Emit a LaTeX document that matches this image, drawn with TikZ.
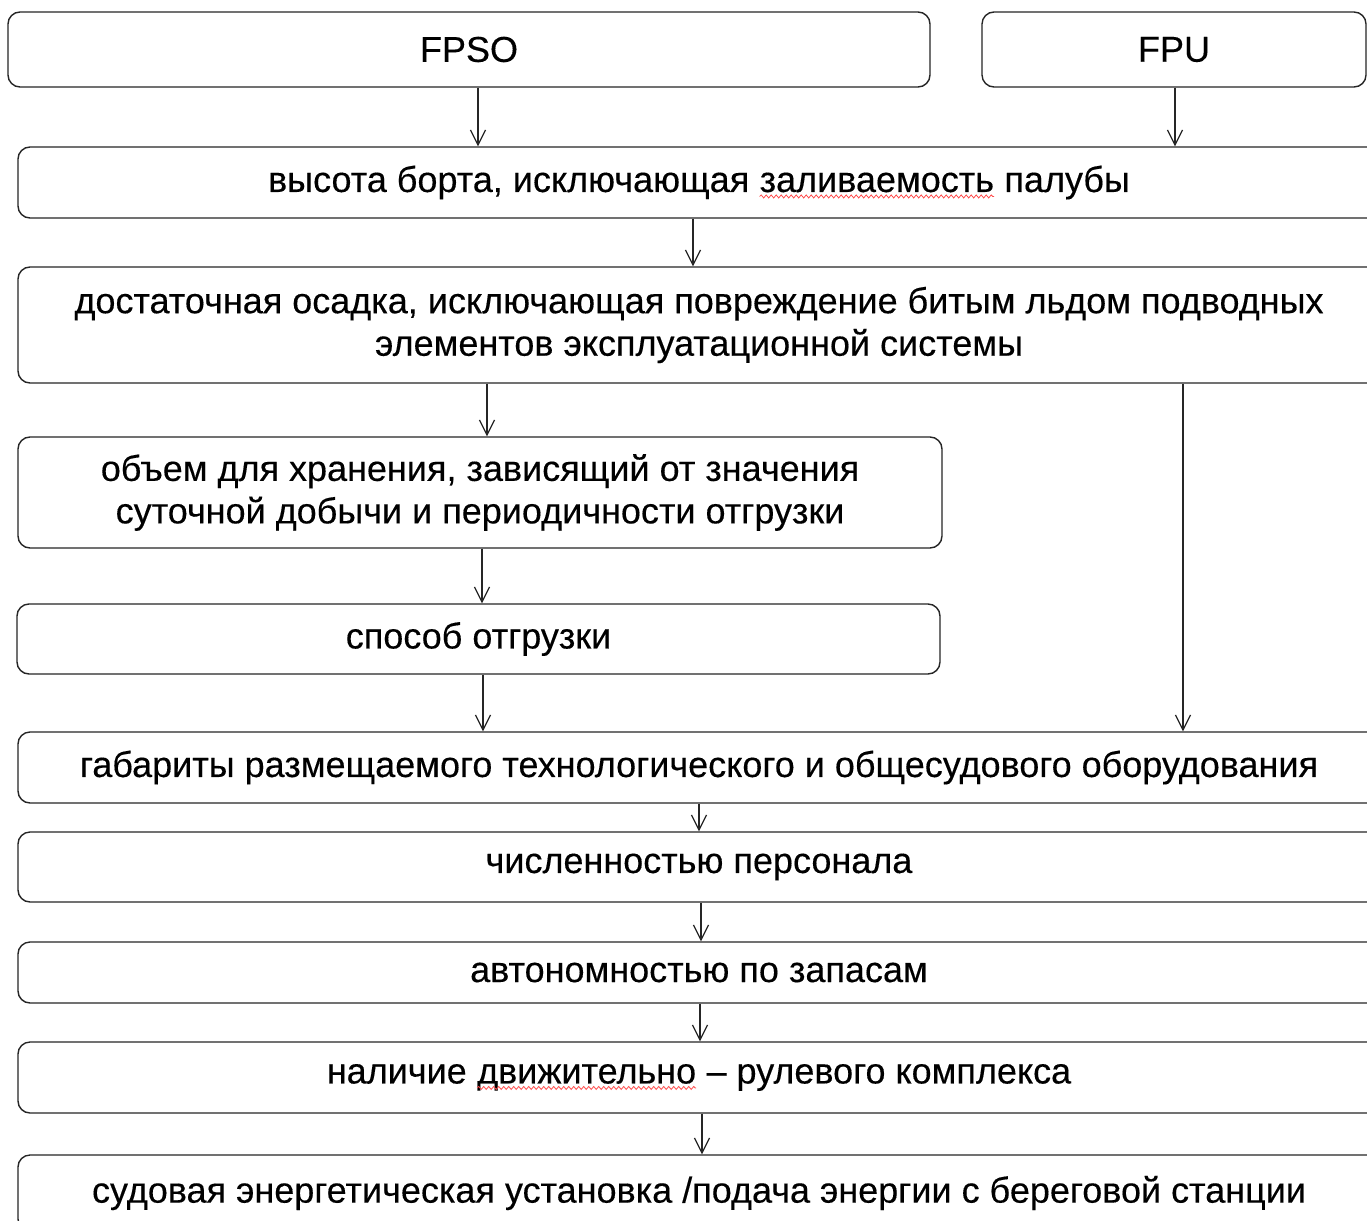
\documentclass[tikz,border=0pt]{standalone}
\usepackage{fontspec}
\setmainfont[FakeBold=0.3]{Liberation Sans}
\usetikzlibrary{arrows.meta,decorations.pathmorphing}
\tikzset{
  box/.style={draw=black!85, line width=1.4pt, rounded corners=12pt, fill=white,
    inner sep=0pt, align=center, font=\fontsize{36}{42.5}\selectfont},
  arr/.style={draw=black!85, line width=1.2pt, -{Straight Barb[length=15pt,width=15pt]}},
  squig/.style={draw=red!70, line width=0.8pt, sharp corners, decorate,
    decoration={snake, amplitude=1.5pt, segment length=5pt}}
}
\newcommand{\spellmark}[1]{\tikz[baseline=(sw.base)]{\node[inner sep=0pt, outer sep=0pt,
  minimum width=0pt, minimum height=0pt, draw=none, fill=none, sharp corners] (sw) {#1};
  \draw[squig] ([yshift=-4.5pt]sw.base west) -- ([yshift=-4.5pt]sw.base east);}}
\begin{document}
\begin{tikzpicture}[x=1pt,y=-1pt]
\useasboundingbox (0,0) rectangle (1367,1220);
\clip (0,0) rectangle (1367,1220);
\fill[white] (0,0) rectangle (1367,1220);
\node[box, minimum width=922, minimum height=75] (fpso) at (469,49.5) {FPSO};
\node[box, minimum width=384, minimum height=75] (fpu) at (1174,49.5) {FPU};
\node[box, minimum width=1362, minimum height=71] (b2) at (699,182.5) {высота борта, исключающая \spellmark{заливаемость} палубы};
\node[box, minimum width=1362, minimum height=116] (b3) at (699,325) {достаточная осадка, исключающая повреждение битым льдом подводных\\элементов эксплуатационной системы};
\node[box, minimum width=924, minimum height=111] (b4) at (480,492.5) {объем для хранения, зависящий от значения\\суточной добычи и периодичности отгрузки};
\node[box, minimum width=923, minimum height=70] (b5) at (478.5,639) {способ отгрузки};
\node[box, minimum width=1362, minimum height=71] (b6) at (699,767.5) {габариты размещаемого технологического и общесудового оборудования};
\node[box, minimum width=1362, minimum height=70] (b7) at (699,867) {численностью персонала};
\node[box, minimum width=1362, minimum height=61] (b8) at (699,972.5) {автономностью по запасам};
\node[box, minimum width=1362, minimum height=71] (b9) at (699,1077.5) {наличие \spellmark{движительно} – рулевого комплекса};
\node[box, minimum width=1362, minimum height=76] (b10) at (699,1193) {судовая энергетическая установка /подача энергии с береговой станции};

\draw[arr] ([xshift=9pt]fpso.south) -- ([xshift=9pt]fpso.south |- b2.north);
\draw[arr] ([xshift=1pt]fpu.south) -- ([xshift=1pt]fpu.south |- b2.north);
\draw[arr] ([xshift=-6pt]b2.south) -- ([xshift=-6pt]b2.south |- b3.north);
\draw[arr] ([xshift=7pt]b4.north |- b3.south) -- ([xshift=7pt]b4.north);
\draw[arr] ([xshift=9pt]fpu.south |- b3.south) -- ([xshift=9pt]fpu.south |- b6.north);
\draw[arr] ([xshift=2pt]b4.south) -- ([xshift=2pt]b4.south |- b5.north);
\draw[arr] ([xshift=4.5pt]b5.south) -- ([xshift=4.5pt]b5.south |- b6.north);
\draw[arr] (b6.south) -- (b7.north);
\draw[arr] ([xshift=2pt]b7.south) -- ([xshift=2pt]b8.north);
\draw[arr] ([xshift=1pt]b8.south) -- ([xshift=1pt]b9.north);
\draw[arr] ([xshift=3pt]b9.south) -- ([xshift=3pt]b10.north);
\end{tikzpicture}
\end{document}
